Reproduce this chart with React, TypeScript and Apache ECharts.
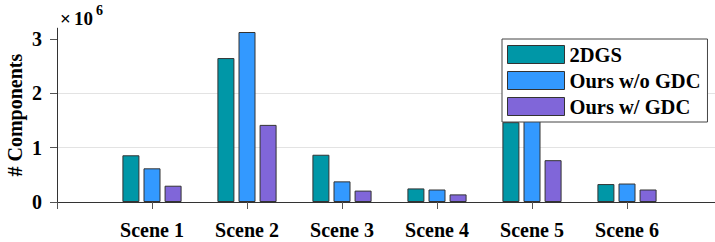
import React, { useEffect, useRef } from "react";
import * as echarts from "echarts";

const scenes = ["Scene 1", "Scene 2", "Scene 3", "Scene 4", "Scene 5", "Scene 6"];
const seriesNames = ["2DGS", "Ours w/o GDC", "Ours w/ GDC"];
const dgs2 = [0.86, 2.65, 0.87, 0.25, 1.47, 0.33];
const oursNoGdc = [0.62, 3.13, 0.38, 0.23, 1.75, 0.34];
const oursGdc = [0.3, 1.42, 0.21, 0.14, 0.77, 0.23];
const yTicks = [0, 1, 2, 3];
const colors = ["#0097A7", "#3399FF", "#8066D9"];

const FONT = "Liberation Serif";

export default function App() {
  const ref = useRef<HTMLDivElement>(null);
  useEffect(() => {
    if (!ref.current) return;
    const chart = echarts.init(ref.current, null, { renderer: "svg" });
    const cats = ["", ...scenes, ""];
    const pad = (arr: number[]) => ["-", ...arr, "-"];
    const allData = [dgs2, oursNoGdc, oursGdc];
    const txt = { fontFamily: FONT, fontWeight: "bold", fontSize: 20, color: "#000" };
    chart.setOption({
      animation: false,
      backgroundColor: "#ffffff",
      grid: {
        left: 57,
        top: 28.2,
        width: 665,
        height: 173.8,
        containLabel: false,
        outerBoundsMode: "none",
      },
      legend: {
        left: 502,
        top: 39,
        orient: "vertical",
        itemWidth: 57,
        itemHeight: 18,
        itemGap: 5,
        padding: [5, 7, 5, 5],
        backgroundColor: "#ffffff",
        borderColor: "#444444",
        borderWidth: 1,
        borderRadius: 0,
        icon: "rect",
        textStyle: { ...txt, fontSize: 20.5, lineHeight: 20, padding: [0, 0, 0, 0] },
        itemStyle: { borderColor: "#333", borderWidth: 1 },
        data: seriesNames,
        z: 10,
      },
      xAxis: {
        type: "category",
        data: cats,
        boundaryGap: false,
        axisLine: { show: true, lineStyle: { color: "#333333", width: 1 } },
        axisTick: {
          show: true,
          inside: false,
          length: 7,
          alignWithLabel: true,
          interval: 0,
          lineStyle: { color: "#555555" },
        },
        axisLabel: { ...txt, interval: 0, margin: 18 },
        splitLine: { show: false },
      },
      yAxis: {
        type: "value",
        min: 0,
        max: 3.2,
        interval: 1,
        name: "# Components",
        nameLocation: "middle",
        nameRotate: 90,
        nameGap: 32,
        nameMoveOverlap: false,
        nameTextStyle: { ...txt },
        axisLine: { show: true, lineStyle: { color: "#333333", width: 1 } },
        axisTick: {
          show: true,
          inside: false,
          length: 7,
          customValues: yTicks,
          lineStyle: { color: "#555555" },
        },
        axisLabel: {
          ...txt,
          customValues: yTicks,
          margin: 15,
          formatter: (v: number) => String(v),
        },
        splitLine: {
          show: true,
          showMinLine: false,
          showMaxLine: false,
          lineStyle: { color: "#e3e3e3", width: 1 },
        },
      },
      graphic: [
        {
          type: "text",
          left: 60,
          top: 9,
          style: { text: "×", fontFamily: FONT, fontWeight: "bold", fontSize: 19, fill: "#000" },
        },
        {
          type: "text",
          left: 74,
          top: 9,
          style: { text: "10", fontFamily: FONT, fontWeight: "bold", fontSize: 19, fill: "#000" },
        },
        {
          type: "text",
          left: 96,
          top: 3,
          style: { text: "6", fontFamily: FONT, fontWeight: "bold", fontSize: 14, fill: "#000" },
        },
      ],
      series: seriesNames.map((name, i) => ({
        name,
        type: "bar",
        data: pad(allData[i]),
        barWidth: 17,
        barGap: "24%",
        itemStyle: { color: colors[i], borderColor: "#333333", borderWidth: 1 },
        z: 2,
      })),
    });
    return () => chart.dispose();
  }, []);
  return <div ref={ref} style={{ width: 715, height: 242, position: "absolute", left: 0, top: 0 }} />;
}
